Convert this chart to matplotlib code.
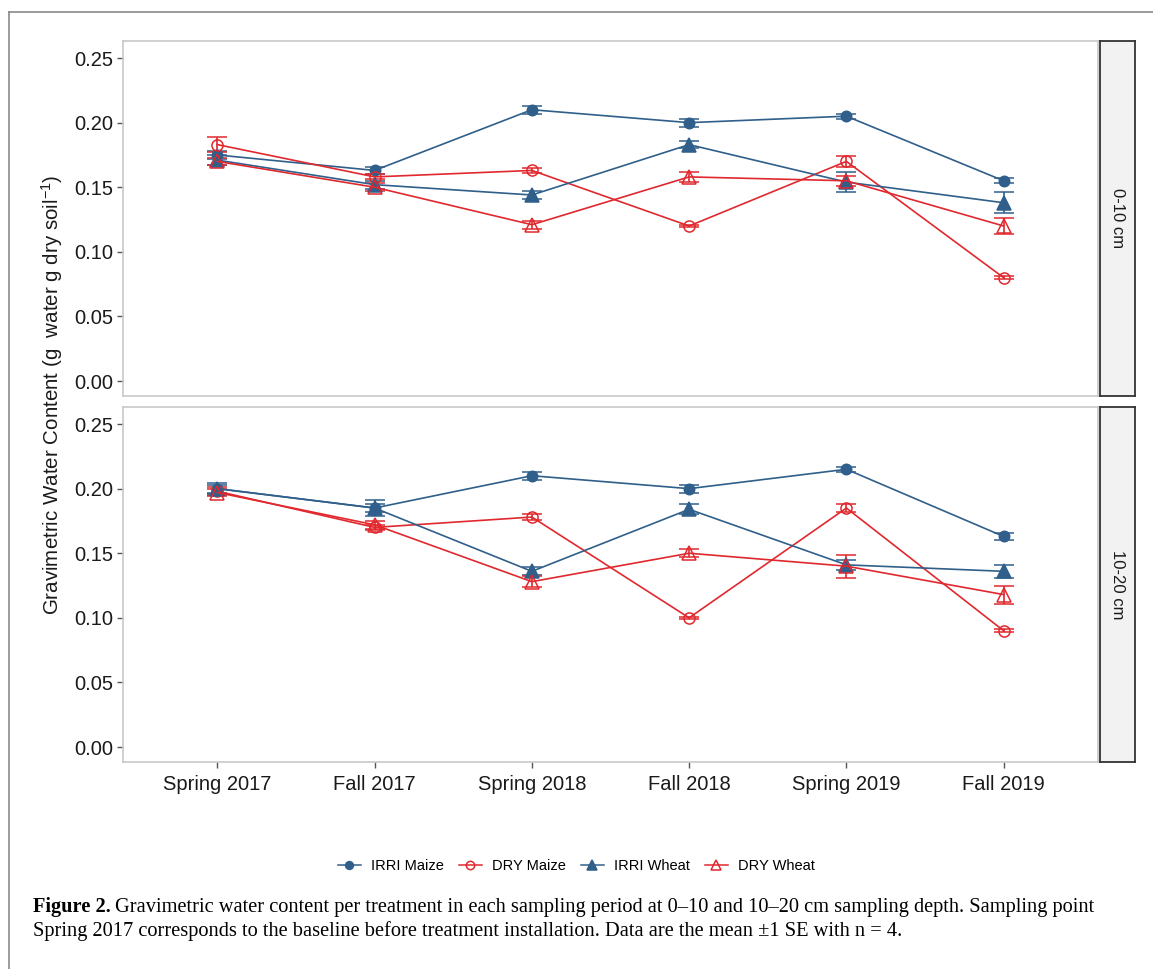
import numpy as np
import matplotlib.pyplot as plt
from matplotlib.lines import Line2D

plt.rcParams['font.family'] = ['Liberation Sans', 'DejaVu Sans']
plt.rcParams['mathtext.default'] = 'regular'

periods = ["Spring 2017", "Fall 2017", "Spring 2018", "Fall 2018", "Spring 2019", "Fall 2019"]
depths = ["0-10 cm", "10-20 cm"]
treatments = ["IRRI Maize", "DRY Maize", "IRRI Wheat", "DRY Wheat"]

# mean gravimetric water content, 0-10 cm
irri_maize_0_10 = [0.175, 0.163, 0.210, 0.200, 0.205, 0.155]
dry_maize_0_10 = [0.183, 0.158, 0.163, 0.120, 0.170, 0.080]
irri_wheat_0_10 = [0.171, 0.152, 0.144, 0.183, 0.154, 0.138]
dry_wheat_0_10 = [0.170, 0.150, 0.121, 0.158, 0.155, 0.120]
# standard errors, 0-10 cm
irri_maize_0_10_se = [0.003, 0.003, 0.003, 0.003, 0.002, 0.002]
dry_maize_0_10_se = [0.006, 0.002, 0.002, 0.001, 0.004, 0.001]
irri_wheat_0_10_se = [0.004, 0.003, 0.003, 0.003, 0.008, 0.008]
dry_wheat_0_10_se = [0.003, 0.003, 0.003, 0.004, 0.004, 0.006]

# mean gravimetric water content, 10-20 cm
irri_maize_10_20 = [0.200, 0.185, 0.210, 0.200, 0.215, 0.163]
dry_maize_10_20 = [0.198, 0.170, 0.178, 0.100, 0.185, 0.090]
irri_wheat_10_20 = [0.200, 0.185, 0.136, 0.184, 0.141, 0.136]
dry_wheat_10_20 = [0.197, 0.172, 0.128, 0.150, 0.140, 0.118]
# standard errors, 10-20 cm
irri_maize_10_20_se = [0.003, 0.003, 0.003, 0.003, 0.002, 0.003]
dry_maize_10_20_se = [0.003, 0.002, 0.002, 0.001, 0.003, 0.001]
irri_wheat_10_20_se = [0.004, 0.006, 0.003, 0.004, 0.004, 0.005]
dry_wheat_10_20_se = [0.003, 0.003, 0.004, 0.003, 0.009, 0.007]

panels = [
    [(irri_maize_0_10, irri_maize_0_10_se), (dry_maize_0_10, dry_maize_0_10_se),
     (irri_wheat_0_10, irri_wheat_0_10_se), (dry_wheat_0_10, dry_wheat_0_10_se)],
    [(irri_maize_10_20, irri_maize_10_20_se), (dry_maize_10_20, dry_maize_10_20_se),
     (irri_wheat_10_20, irri_wheat_10_20_se), (dry_wheat_10_20, dry_wheat_10_20_se)],
]

BLUE = '#2f5f8a'
RED = '#e0282e'
styles = [
    dict(color=BLUE, marker='o', ms=7.5, mfc=BLUE),
    dict(color=RED, marker='o', ms=8, mfc='none'),
    dict(color=BLUE, marker='^', ms=10, mfc=BLUE),
    dict(color=RED, marker='^', ms=10.5, mfc='none'),
]

fig = plt.figure(figsize=(11.53, 9.69), dpi=100)

# outer frame line (top and left)
fig.add_artist(Line2D([9 / 1153, 9 / 1153], [0, 1 - 12 / 969], color='#8a8a8a', lw=1.2))
fig.add_artist(Line2D([9 / 1153, 1], [1 - 12 / 969, 1 - 12 / 969], color='#8a8a8a', lw=1.2))

x = np.arange(1, len(periods) + 1)
left, width = 123 / 1153, 975 / 1153
height = 355 / 969
bottoms = [1 - 396 / 969, 1 - 762 / 969]

axes = []
for p, (series, depth) in enumerate(zip(panels, depths)):
    ax = fig.add_axes([left, bottoms[p], width, height])
    axes.append(ax)
    for (vals, se), st in zip(series, styles):
        ax.errorbar(x, vals, yerr=se, color=st['color'], lw=1.2, elinewidth=1.2,
                    capsize=7, capthick=1.2, marker=st['marker'], ms=st['ms'],
                    mfc=st['mfc'], mec=st['color'], mew=1.1)
    ax.set_xlim(0.4, 6.6)
    ax.set_ylim(-0.0116, 0.2632)
    ax.set_yticks([0.00, 0.05, 0.10, 0.15, 0.20, 0.25])
    ax.set_yticklabels(['0.00', '0.05', '0.10', '0.15', '0.20', '0.25'])
    ax.set_xticks(x)
    for s in ax.spines.values():
        s.set_color('#c8c8c8')
        s.set_linewidth(1.2)
    ax.tick_params(axis='both', length=4, width=1, color='#555555',
                   labelsize=14.5, labelcolor='#1a1a1a', pad=3)
    if p == 0:
        ax.tick_params(axis='x', bottom=False, labelbottom=False)
    else:
        ax.set_xticklabels(periods)
        ax.tick_params(axis='x', pad=5)

    # facet strip on the right
    sax = fig.add_axes([1100 / 1153, bottoms[p], 35 / 1153, height])
    sax.set_facecolor('#f2f2f2')
    sax.set_xticks([])
    sax.set_yticks([])
    for s in sax.spines.values():
        s.set_color('#333333')
        s.set_linewidth(1.3)
    sax.text(0.5, 0.5, depth, rotation=-90, ha='center', va='center',
             fontsize=12, color='#1a1a1a', transform=sax.transAxes)

fig.text(52 / 1153, 1 - 395 / 969,
         'Gravimetric Water Content (g  water g dry soil$^{-1}$)',
         rotation=90, ha='center', va='center', fontsize=14.8, color='#1a1a1a')

handles = [Line2D([], [], color=st['color'], lw=1.1, marker=st['marker'],
                  ms=st['ms'] * 0.75, mfc=st['mfc'], mec=st['color'], mew=1.1)
           for st in styles]
fig.legend(handles, treatments, loc='center', bbox_to_anchor=(0.5, 1 - 866 / 969),
           ncol=4, frameon=False, fontsize=10.5, handlelength=1.6, handletextpad=0.7,
           columnspacing=1.0)

# caption
cap_kw = dict(family=['Liberation Serif', 'DejaVu Serif'], fontsize=14.7, color='black')
t = fig.text(33 / 1153, 1 - 912 / 969, 'Figure 2.', fontweight='bold', va='baseline', **cap_kw)
fig.canvas.draw()
bb = t.get_window_extent()
fig.text(bb.x1 / 1153 + 0.004, 1 - 912 / 969,
         'Gravimetric water content per treatment in each sampling period at 0\u201310 and '
         '10\u201320 cm sampling depth. Sampling point', va='baseline', **cap_kw)
fig.text(33 / 1153, 1 - 936 / 969,
         'Spring 2017 corresponds to the baseline before treatment installation. '
         'Data are the mean \u00b11 SE with n = 4.', va='baseline', **cap_kw)

fig.savefig('out.png', dpi=100)
